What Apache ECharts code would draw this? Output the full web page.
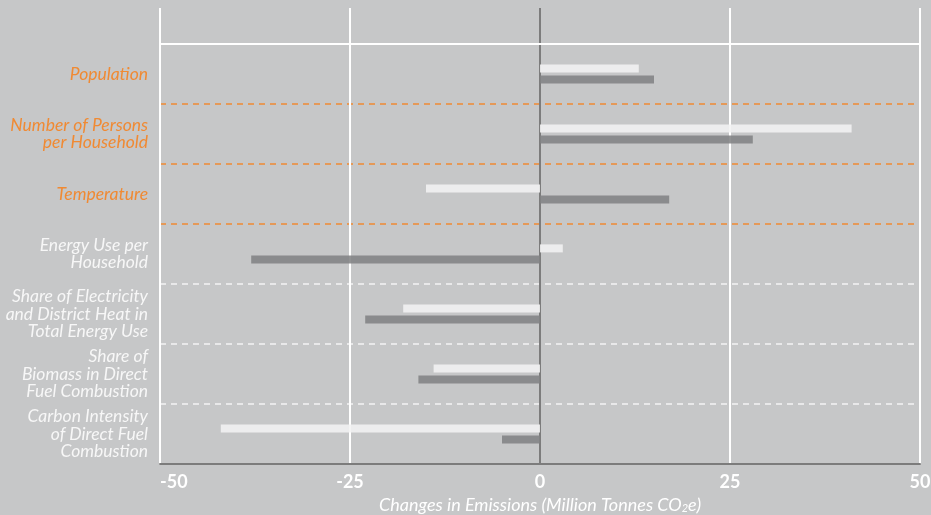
<!DOCTYPE html>
<html><head><meta charset="utf-8">
<script src="https://cdn.jsdelivr.net/npm/echarts@6/dist/echarts.min.js"></script>
<style>html,body{margin:0;padding:0;background:#c6c7c8;}#c{width:931px;height:515px;}</style>
</head><body><div id="c"></div>
<script>
const categories = [
  "Population",
  "Number of Persons\nper Household",
  "Temperature",
  "Energy Use per\nHousehold",
  "Share of Electricity\nand District Heat in\nTotal Energy Use",
  "Share of\nBiomass in Direct\nFuel Combustion",
  "Carbon Intensity\nof Direct Fuel\nCombustion"
];
const highlightedCount = 3;
const lightValues = [13, 41, -15, 3, -18, -14, -42];
const darkValues = [15, 28, 17, -38, -23, -16, -5];
const xMin = -50, xMax = 50, xStep = 25;
const axisTitle = "Changes in Emissions (Million Tonnes CO{sub|2}e)";

const ORANGE = '#f08a33';
const gridColors = ['#ffffff', '#ffffff', '#7c7c7c', '#ffffff', '#ffffff'];
const chart = echarts.init(document.getElementById('c'), null, {renderer: 'canvas'});
chart.setOption({
  backgroundColor: '#c6c7c8',
  animation: false,
  grid: [
    {left: 160, right: 11, top: 44, bottom: 51, containLabel: false, outerBoundsMode: 'none'},
    {left: 160, right: 11, top: 8, height: 36, containLabel: false, outerBoundsMode: 'none'}
  ],
  xAxis: [
    {
      gridIndex: 0, type: 'value', min: xMin, max: xMax, interval: xStep,
      position: 'bottom',
      axisLine: {show: true, onZero: false, lineStyle: {color: '#7c7c7c', width: 2}},
      axisTick: {show: false},
      splitLine: {show: true, lineStyle: {color: gridColors, width: 2}},
      axisLabel: {
        color: '#ffffff', fontFamily: 'Lato', fontWeight: 'bold', fontSize: 18,
        margin: 9, alignMinLabel: 'left'
      },
      name: axisTitle, nameLocation: 'middle', nameGap: 32,
      nameTextStyle: {
        color: '#ffffff', fontFamily: 'Lato', fontStyle: 'italic', fontSize: 18,
        rich: {sub: {fontSize: 11, fontFamily: 'Lato', fontStyle: 'italic', color: '#ffffff', verticalAlign: 'bottom', padding: [6,0,0,0]}}
      }
    },
    {
      gridIndex: 1, type: 'value', min: xMin, max: xMax, interval: xStep,
      position: 'bottom',
      axisLine: {show: true, onZero: false, lineStyle: {color: '#ffffff', width: 2}},
      axisTick: {show: false}, axisLabel: {show: false},
      splitLine: {show: true, lineStyle: {color: gridColors, width: 2}}
    }
  ],
  yAxis: [
    {
      gridIndex: 0, type: 'category', data: categories, inverse: true,
      axisLine: {show: true, onZero: false, lineStyle: {color: '#ffffff', width: 2}},
      axisTick: {show: false},
      axisLabel: {
        margin: 12, fontFamily: 'Lato', fontStyle: 'italic', fontSize: 17.5, lineHeight: 17.5,
        align: 'right', padding: [2, 0, 0, 0],
        color: function (v, i) { return i < highlightedCount ? ORANGE : '#f7f7f7'; }
      },
      splitLine: {
        show: true, showMinLine: false, showMaxLine: false,
        lineStyle: {
          color: [ORANGE, ORANGE, ORANGE, '#f4f4f4', '#f4f4f4', '#f4f4f4'],
          width: 1.5, type: [6, 5]
        }
      }
    },
    {gridIndex: 1, type: 'value', min: 0, max: 1, show: false}
  ],
  series: [
    {
      type: 'bar', xAxisIndex: 0, yAxisIndex: 0, data: lightValues,
      barWidth: 8, barGap: '40%',
      itemStyle: {color: '#f3f3f3', opacity: 0.88}
    },
    {
      type: 'bar', xAxisIndex: 0, yAxisIndex: 0, data: darkValues,
      barWidth: 8, barGap: '40%',
      itemStyle: {color: '#828384', opacity: 0.88}
    }
  ]
});
</script></body></html>
